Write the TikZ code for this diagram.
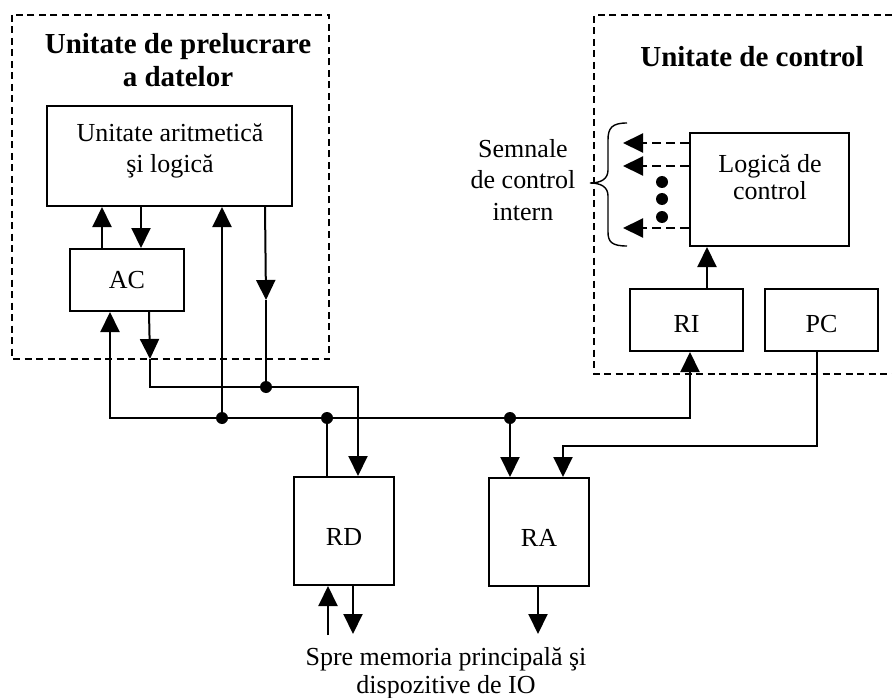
\documentclass[tikz,border=0pt]{standalone}
\usepackage{fontspec}
\setmainfont{Liberation Serif}
\usetikzlibrary{arrows.meta,calc}

\begin{document}
\begin{tikzpicture}[x=1pt,y=-1pt,
  wire/.style={line width=2pt},
  arr/.style={wire,-{Triangle[length=20pt,width=19pt]}},
  sig/.style={arr,dash pattern=on 9pt off 5pt},
  box/.style={draw,line width=2pt,inner sep=0pt,font=\fontsize{26}{30}\selectfont},
  region/.style={draw,line width=1.6pt,dash pattern=on 7pt off 4.5pt},
  txt/.style={font=\fontsize{26}{30}\selectfont,inner sep=0pt,anchor=base},
  ttl/.style={font=\bfseries\fontsize{29}{33}\selectfont,inner sep=0pt,anchor=base},
  dot/.style={circle,fill,inner sep=0pt,minimum size=12pt},
]
\useasboundingbox (0,0) rectangle (892,698);

% dashed outlines of the two units
\draw[region] (12,15) rectangle (329,359);
\draw[region] (892,15) -- (594,15) -- (594,374) -- (892,374);

% titles
\node[ttl] (tdp1) at (178,54) {Unitate de prelucrare};
\node[ttl] (tdp2) at (178,87) {a datelor};
\node[ttl] (tcu) at (752,67) {Unitate de control};

% registers and functional blocks
\node[box,minimum width=245pt,minimum height=100pt] (alu) at (169.5,156) {};
\node[txt] (alu1) at (170,142) {Unitate aritmetică};
\node[txt] (alu2) at (170,173) {şi logică};
\node[box,minimum width=114pt,minimum height=62pt] (ac) at (127,280) {AC};
\node[box,minimum width=100pt,minimum height=108pt,text height=29pt,text depth=0pt] (rd) at (344,531) {RD};
\node[box,minimum width=100pt,minimum height=108pt,text height=29pt,text depth=0pt] (ra) at (539,532) {RA};
\node[box,minimum width=159pt,minimum height=113pt] (logic) at (769.5,189.5) {};
\node[txt] (log1) at (770,172) {Logică de};
\node[txt] (log2) at (770,200) {control};
\node[box,minimum width=113pt,minimum height=62pt,text height=25pt,text depth=0pt] (ri) at (686.5,320) {RI};
\node[box,minimum width=113pt,minimum height=62pt,text height=25pt,text depth=0pt] (pc) at (821.5,320) {PC};

% bus junctions and bends
\coordinate (bL) at (110,418);
\coordinate (jA) at (222,418);
\coordinate (jD) at (327,418);
\coordinate (jR) at (510,418);
\coordinate (bR) at (690,418);
\coordinate (jU) at (266,387);
\coordinate (uL) at (150,387);
\coordinate (uR) at (358,387);
\coordinate (mU) at (266,300);
\coordinate (mA) at (150,359);
\coordinate (raIn) at (563,446);
\coordinate (memIn) at (328,635);
\coordinate (memOut) at (353,634);
\coordinate (raOut) at (538,634);

% ALU <-> AC
\draw[arr] ($(ac.north west)+(33,0)$) -- ($(alu.south west)+(56,0)$);
\draw[arr] ($(alu.south west)+(95,0)$) -- ($(ac.north west)+(72,0)$);
% bus into the ALU
\draw[arr] (jA) -- (jA |- alu.south);
% ALU result onto the upper line
\draw[arr] ($(alu.south west)+(219,0)$) -- (mU);
\draw[wire] (mU) -- (jU);
% AC out to RD
\draw[arr] ($(ac.south west)+(80,0)$) -- (mA);
\draw[arr] (mA) -- (uL) -- (uR) -- (uR |- rd.north);
% RD onto the lower bus
\draw[wire] (jD |- rd.north) -- (jD);
\draw[arr] (jD) -- (bL) -- (bL |- ac.south);
\draw[arr] (jD) -- (bR) -- (bR |- ri.south);
\draw[arr] (jR) -- (jR |- ra.north);
% PC to RA
\draw[arr] ($(pc.south west)+(53,0)$) |- (raIn) -- (raIn |- ra.north);
% RI to control logic
\draw[arr] ($(ri.north west)+(78,0)$) -- ($(logic.south west)+(18,0)$);
% memory side
\draw[arr] (memIn) -- (memIn |- rd.south);
\draw[arr] (memOut |- rd.south) -- (memOut);
\draw[arr] (raOut |- ra.south) -- (raOut);

% junction dots
\node[dot] (dA) at (jA) {};
\node[dot] (dD) at (jD) {};
\node[dot] (dR) at (jR) {};
\node[dot] (dU) at (jU) {};

% internal control signals
\coordinate (s1) at (623,143);
\coordinate (s2) at (623,166);
\coordinate (s3) at (623,228);
\draw[sig] (logic.west |- s1) -- (s1);
\draw[sig] (logic.west |- s2) -- (s2);
\draw[sig] (logic.west |- s3) -- (s3);
\node[dot] (e1) at (662,182) {};
\node[dot] (e2) at (662,199) {};
\node[dot] (e3) at (662,217) {};
\draw[line width=1.4pt] (627,123) .. controls (612,123) and (608,128) .. (608,140)
  -- (608,170) .. controls (608,179) and (601,183) .. (590,183)
  .. controls (601,183) and (608,187) .. (608,196)
  -- (608,232) .. controls (608,242) and (612,246) .. (627,246);
\node[txt] (sem1) at (523,158) {Semnale};
\node[txt] (sem2) at (523,189) {de control};
\node[txt] (sem3) at (523,220) {intern};

% destination note
\node[txt] (mem1) at (446,665) {Spre memoria principală şi};
\node[txt] (mem2) at (446,693) {dispozitive de IO};
\end{tikzpicture}
\end{document}
